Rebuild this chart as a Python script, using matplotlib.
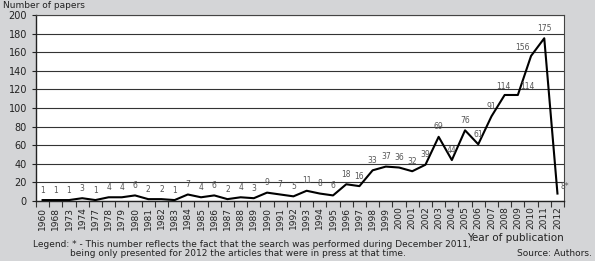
import matplotlib.pyplot as plt
import numpy as np

years = ['1960', '1968', '1973', '1974', '1977', '1978', '1979', '1980', '1981', '1982',
         '1983', '1984', '1985', '1986', '1987', '1988', '1989', '1990', '1991', '1992',
         '1993', '1994', '1995', '1996', '1997', '1998', '1999', '2000', '2001', '2002',
         '2003', '2004', '2005', '2006', '2007', '2008', '2009', '2010', '2011', '2012']
papers = [1, 1, 1, 3, 1, 4, 4, 6, 2, 2,
          1, 7, 4, 6, 2, 4, 3, 9, 7, 5,
          11, 8, 6, 18, 16, 33, 37, 36, 32, 39,
          69, 44, 76, 61, 91, 114, 114, 156, 175, 8]
point_labels = [str(v) for v in papers[:-1]] + ['8*']

plt.rcParams['font.family'] = ['Liberation Sans Narrow', 'DejaVu Sans']

bg = '#d4d5d7'
fig = plt.figure(figsize=(5.95, 2.61), dpi=100, facecolor=bg)
ax = fig.add_axes([0.0605, 0.2299, 0.8875, 0.7126])
ax.set_facecolor('white')

x = np.arange(len(years))
ax.plot(x, papers, color='black', lw=1.5, zorder=3)

# label placement: a few points get nudged sideways like the original
n = len(papers)
for i, (v, lab) in enumerate(zip(papers, point_labels)):
    if i == n - 1:
        off, ha = (2, 2), 'left'
    elif i == n - 3:
        off, ha = (-1, 3), 'right'
    elif i == n - 4:
        off, ha = (2, 3), 'left'
    elif i == n - 5:
        off, ha = (-1, 3), 'center'
    else:
        off, ha = (0, 4), 'center'
    ax.annotate(lab, (i, v), xytext=off, textcoords='offset points',
                fontsize=5.5, color='#555555', ha=ha, va='bottom')

ax.set_xlim(-0.5, n - 0.5)
ax.set_ylim(0, 200)
ax.set_yticks(range(0, 201, 20))
ax.yaxis.grid(True, color='#333333', lw=0.8)
ax.set_axisbelow(True)

ax.set_xticks(x)
ax.set_xticklabels(years, rotation=90, fontsize=6.5, color='#222222')
ax.set_xticks(np.arange(-0.5, n, 1), minor=True)
ax.tick_params(axis='x', which='major', length=0, pad=4)
ax.tick_params(axis='x', which='minor', length=4, width=0.8, color='#333333', direction='out')
ax.tick_params(axis='y', length=3, width=0.8, labelsize=7, colors='#222222')

for s in ['left', 'bottom']:
    ax.spines[s].set_color('#222222')
    ax.spines[s].set_linewidth(1.0)
for s in ['top', 'right']:
    ax.spines[s].set_color('#444444')
    ax.spines[s].set_linewidth(0.8)

fig.text(0.005, 0.998, 'Number of papers', fontsize=6.5, color='#222222', ha='left', va='top')
fig.text(0.948, 0.09, 'Year of publication', fontsize=7.5, color='#222222', ha='right', va='center')
fig.text(0.995, 0.03, 'Source: Authors.', fontsize=6.5, color='#222222', ha='right', va='center')
fig.text(0.055, 0.062, 'Legend: * - This number reflects the fact that the search was performed during December 2011,',
         fontsize=6.5, color='#222222', ha='left', va='center')
fig.text(0.118, 0.030, 'being only presented for 2012 the articles that were in press at that time.',
         fontsize=6.5, color='#222222', ha='left', va='center')

fig.savefig('out.png', dpi=100, facecolor=bg)
